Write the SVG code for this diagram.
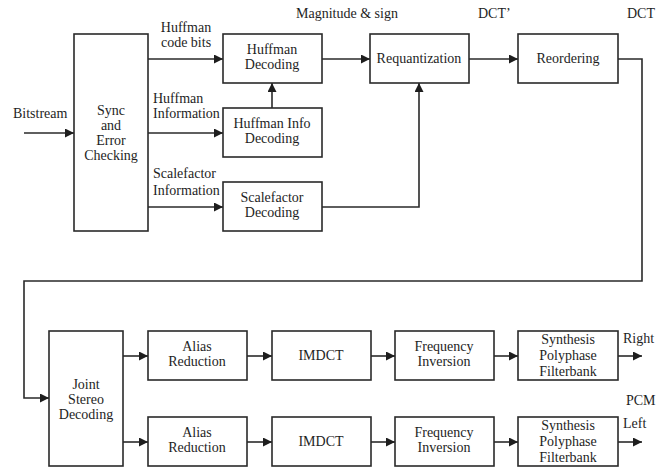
<svg xmlns="http://www.w3.org/2000/svg" width="657" height="467" viewBox="0 0 657 467">
<style>
rect.b{fill:#fff;stroke:#2a2a2a;stroke-width:1.6}
text{font-family:"Liberation Serif","Times New Roman",serif;font-size:14px;fill:#1e1e1e}
.c{text-anchor:middle}
.l{fill:none;stroke:#2a2a2a;stroke-width:1.6}
</style>
<defs>
<marker id="a" markerUnits="userSpaceOnUse" markerWidth="10" markerHeight="10" refX="9" refY="4.5" orient="auto">
<path d="M0,0 L9,4.5 L0,9 z" fill="#1e1e1e"/>
</marker>
</defs>
<rect width="657" height="467" fill="#fff"/>
<g id="connectors">
<line class="l" x1="24" y1="133" x2="74" y2="133" marker-end="url(#a)"/>
<line class="l" x1="148" y1="59" x2="223" y2="59" marker-end="url(#a)"/>
<line class="l" x1="148" y1="133" x2="223" y2="133" marker-end="url(#a)"/>
<line class="l" x1="148" y1="207" x2="223" y2="207" marker-end="url(#a)"/>
<line class="l" x1="272" y1="108" x2="272" y2="83" marker-end="url(#a)"/>
<line class="l" x1="322" y1="59" x2="370" y2="59" marker-end="url(#a)"/>
<polyline class="l" points="322,207 419,207 419,83" marker-end="url(#a)"/>
<line class="l" x1="469" y1="59" x2="518" y2="59" marker-end="url(#a)"/>
<polyline class="l" points="618,59 642,59 642,281 24,281 24,398 49,398" marker-end="url(#a)"/>
<line class="l" x1="123" y1="356" x2="148" y2="356" marker-end="url(#a)"/>
<line class="l" x1="123" y1="442" x2="148" y2="442" marker-end="url(#a)"/>
<line class="l" x1="247" y1="356" x2="272" y2="356" marker-end="url(#a)"/>
<line class="l" x1="247" y1="442" x2="272" y2="442" marker-end="url(#a)"/>
<line class="l" x1="371" y1="356" x2="395" y2="356" marker-end="url(#a)"/>
<line class="l" x1="371" y1="442" x2="395" y2="442" marker-end="url(#a)"/>
<line class="l" x1="494" y1="356" x2="518" y2="356" marker-end="url(#a)"/>
<line class="l" x1="494" y1="442" x2="518" y2="442" marker-end="url(#a)"/>
<line class="l" x1="618" y1="356" x2="642" y2="356" marker-end="url(#a)"/>
<line class="l" x1="618" y1="442" x2="642" y2="442" marker-end="url(#a)"/>
</g>
<g id="labels">
<text x="13" y="118">Bitstream</text>
<text class="c" x="186" y="32">Huffman</text>
<text class="c" x="186" y="47">code bits</text>
<text x="153" y="103">Huffman</text>
<text x="153" y="118">Information</text>
<text x="153" y="178">Scalefactor</text>
<text x="153" y="195">Information</text>
<text x="296" y="18">Magnitude &amp; sign</text>
<text x="478" y="18">DCT’</text>
<text x="627" y="18">DCT</text>
<text x="623" y="343">Right</text>
<text x="626" y="405">PCM</text>
<text x="623" y="428">Left</text>
</g>
<g id="sync"><rect class="b" x="74" y="34" width="74" height="197"/>
<text class="c" x="111" y="115">Sync</text><text class="c" x="111" y="130">and</text><text class="c" x="111" y="145">Error</text><text class="c" x="111" y="160">Checking</text></g>
<g id="huffman-decoding"><rect class="b" x="223" y="34" width="99" height="49"/>
<text class="c" x="272" y="54">Huffman</text><text class="c" x="272" y="69">Decoding</text></g>
<g id="huffman-info"><rect class="b" x="223" y="108" width="99" height="49"/>
<text class="c" x="272" y="128">Huffman Info</text><text class="c" x="272" y="143">Decoding</text></g>
<g id="scalefactor"><rect class="b" x="223" y="182" width="99" height="49"/>
<text class="c" x="272" y="202">Scalefactor</text><text class="c" x="272" y="217">Decoding</text></g>
<g id="requantization"><rect class="b" x="370" y="34" width="99" height="49"/>
<text class="c" x="419" y="63">Requantization</text></g>
<g id="reordering"><rect class="b" x="518" y="34" width="100" height="49"/>
<text class="c" x="568" y="63">Reordering</text></g>
<g id="joint"><rect class="b" x="49" y="331" width="74" height="135"/>
<text class="c" x="86" y="389">Joint</text><text class="c" x="86" y="404">Stereo</text><text class="c" x="86" y="419">Decoding</text></g>
<g id="alias-r"><rect class="b" x="148" y="331" width="99" height="49"/>
<text class="c" x="197" y="351">Alias</text><text class="c" x="197" y="366">Reduction</text></g>
<g id="alias-l"><rect class="b" x="148" y="417" width="99" height="49"/>
<text class="c" x="197" y="437">Alias</text><text class="c" x="197" y="452">Reduction</text></g>
<g id="imdct-r"><rect class="b" x="272" y="331" width="99" height="49"/>
<text class="c" x="321" y="360">IMDCT</text></g>
<g id="imdct-l"><rect class="b" x="272" y="417" width="99" height="49"/>
<text class="c" x="321" y="446">IMDCT</text></g>
<g id="freq-r"><rect class="b" x="395" y="331" width="99" height="49"/>
<text class="c" x="444" y="351">Frequency</text><text class="c" x="444" y="366">Inversion</text></g>
<g id="freq-l"><rect class="b" x="395" y="417" width="99" height="49"/>
<text class="c" x="444" y="437">Frequency</text><text class="c" x="444" y="452">Inversion</text></g>
<g id="synth-r"><rect class="b" x="518" y="331" width="100" height="49"/>
<text class="c" x="568" y="344">Synthesis</text><text class="c" x="568" y="360">Polyphase</text><text class="c" x="568" y="376">Filterbank</text></g>
<g id="synth-l"><rect class="b" x="518" y="417" width="100" height="49"/>
<text class="c" x="568" y="430">Synthesis</text><text class="c" x="568" y="446">Polyphase</text><text class="c" x="568" y="462">Filterbank</text></g>
</svg>
